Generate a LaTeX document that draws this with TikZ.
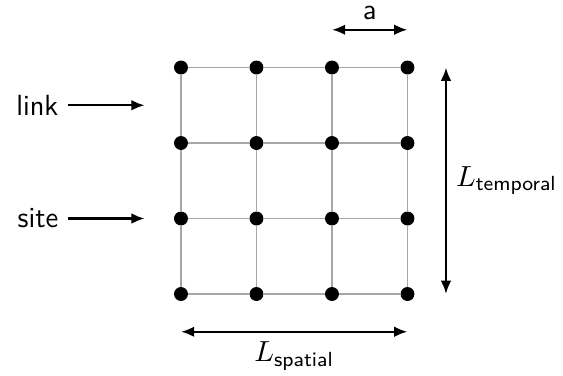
\documentclass[tikz,border=0pt]{standalone}
\usepackage{amsmath}
\usetikzlibrary{arrows.meta,positioning,calc}

\begin{document}
\begin{tikzpicture}[
    font=\sffamily\fontsize{11}{13}\selectfont,
    site/.style={draw, circle, fill=black, inner sep=0pt, minimum size=0.17cm},
    link/.style={draw=black!35, line width=0.5pt},
    arrow/.style={draw, -{Latex[length=5pt,width=4pt]}, line width=0.9pt},
    dim/.style={draw, {Latex[length=5pt,width=4pt]}-{Latex[length=5pt,width=4pt]}, line width=0.9pt}
]
    \useasboundingbox (-2.397,-1.086) rectangle (5.06,3.894);

    % Lattice sites
    \foreach \i in {0,...,3} {
        \foreach \j in {0,...,3} {
            \node[site] (s\i\j) at (\i,\j) {};
        }
    }

    % Links between neighbouring sites
    \foreach \i in {0,...,3} {
        \foreach \j [evaluate=\j as \k using int(\j+1)] in {0,1,2} {
            \path[link] (s\i\j) -- (s\i\k);
            \path[link] (s\j\i) -- (s\k\i);
        }
    }

    % Labels on the left
    \node[anchor=east] (link_lbl) at (-1.5,2.5) {link};
    \coordinate (link_end) at (-0.48,2.5);
    \path[arrow] (link_lbl) -- (link_end);

    \node[anchor=east] (site_lbl) at (-1.5,1) {site};
    \coordinate (site_end) at (-0.48,1);
    \path[arrow] (site_lbl) -- (site_end);

    % Lattice spacing
    \coordinate[above=0.5cm of s23.center] (a_left);
    \coordinate[above=0.5cm of s33.center] (a_right);
    \path[dim] (a_left) -- node[above] (a_lbl) {a} (a_right);

    % Extents
    \coordinate[right=0.51cm of s30.center] (t_bot);
    \coordinate[right=0.51cm of s33.center] (t_top);
    \path[dim] (t_bot) -- node[right] (t_lbl) {$L_{\text{temporal}}$} (t_top);

    \coordinate[below=0.5cm of s00.center] (sp_left);
    \coordinate[below=0.5cm of s30.center] (sp_right);
    \path[dim] (sp_left) -- node[below] (sp_lbl) {$L_{\text{spatial}}$} (sp_right);

\end{tikzpicture}
\end{document}
